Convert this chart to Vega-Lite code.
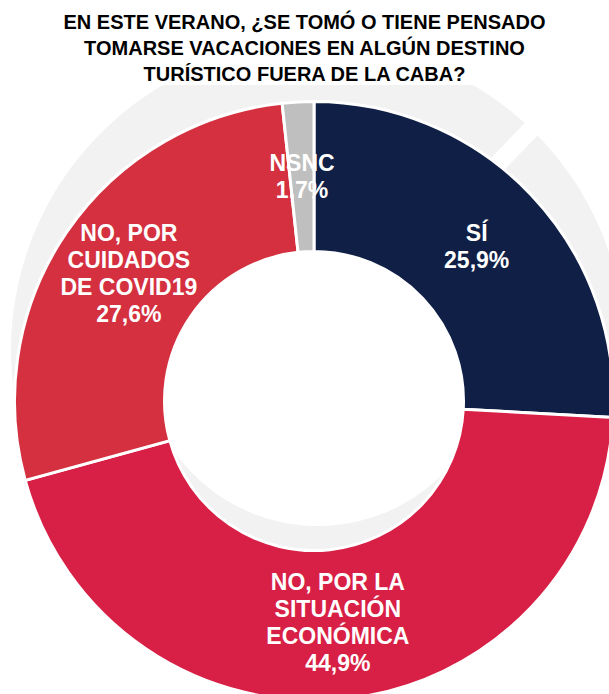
{
  "$schema": "https://vega.github.io/schema/vega-lite/v6.json",
  "autosize": {"type": "none"},
  "padding": {"left": 0, "top": 85, "right": 0, "bottom": 0},
  "width": 609,
  "height": 609,
  "background": "white",
  "title": {
    "text": ["EN ESTE VERANO, ¿SE TOMÓ O TIENE PENSADO", "TOMARSE VACACIONES EN ALGÚN DESTINO", "TURÍSTICO FUERA DE LA CABA?"],
    "font": "Liberation Sans",
    "fontSize": 20,
    "fontWeight": "bold",
    "color": "#000000",
    "anchor": "middle",
    "lineHeight": 26,
    "offset": 0
  },
  "datasets": {
    "fondo": [
      {"parte": "A", "v": 206},
      {"parte": "B", "v": 154}
    ],
    "respuestas": [
      {"n": 1, "categoria": "SÍ", "pct": 25.9, "etiqueta": "SÍ\n25,9%"},
      {"n": 2, "categoria": "NO, POR LA SITUACIÓN ECONÓMICA", "pct": 44.9, "etiqueta": "NO, POR LA\nSITUACIÓN\nECONÓMICA\n44,9%"},
      {"n": 3, "categoria": "NO, POR CUIDADOS DE COVID19", "pct": 27.6, "etiqueta": "NO, POR\nCUIDADOS\nDE COVID19\n27,6%"},
      {"n": 4, "categoria": "NSNC", "pct": 1.7, "etiqueta": "NSNC\n1,7%"}
    ]
  },
  "resolve": {"scale": {"theta": "independent"}},
  "layer": [
    {
      "data": {"name": "fondo"},
      "mark": {"type": "arc", "innerRadius": 176, "outerRadius": 307, "padAngle": 0.05, "color": "#f2f2f2", "xOffset": 13.5, "yOffset": -39.5, "clip": true},
      "encoding": {
        "theta": {"field": "v", "type": "quantitative", "stack": true, "scale": {"range": [0.768, 7.051]}},
        "order": {"field": "parte", "type": "nominal"}
      }
    },
    {
      "data": {"name": "respuestas"},
      "layer": [
        {
          "mark": {"type": "arc", "innerRadius": 149.5, "outerRadius": 299.5, "stroke": "white", "strokeWidth": 3, "xOffset": 9.5, "yOffset": 11.5},
          "encoding": {
            "theta": {"field": "pct", "type": "quantitative", "stack": true},
            "order": {"field": "n", "type": "quantitative"},
            "color": {
              "field": "categoria",
              "type": "nominal",
              "legend": null,
              "scale": {
                "domain": ["SÍ", "NO, POR LA SITUACIÓN ECONÓMICA", "NO, POR CUIDADOS DE COVID19", "NSNC"],
                "range": ["#101f46", "#d81f45", "#d4303f", "#bfbfbf"]
              }
            }
          }
        },
        {
          "mark": {"type": "text", "radius": 224, "font": "Liberation Sans", "fontSize": 23, "fontWeight": "bold", "color": "white", "lineBreak": "\n", "lineHeight": 27, "align": "center", "baseline": "middle", "xOffset": 9.5, "yOffset": -2},
          "encoding": {
            "theta": {"field": "pct", "type": "quantitative", "stack": true},
            "order": {"field": "n", "type": "quantitative"},
            "text": {"condition": {"test": "datum.n == 1 || datum.n == 4", "field": "etiqueta"}, "value": ""}
          }
        },
        {
          "mark": {"type": "text", "radius": 224, "font": "Liberation Sans", "fontSize": 23, "fontWeight": "bold", "color": "white", "lineBreak": "\n", "lineHeight": 27, "align": "center", "baseline": "middle", "xOffset": 9.5, "yOffset": -29},
          "encoding": {
            "theta": {"field": "pct", "type": "quantitative", "stack": true},
            "order": {"field": "n", "type": "quantitative"},
            "text": {"condition": {"test": "datum.n == 2 || datum.n == 3", "field": "etiqueta"}, "value": ""}
          }
        }
      ]
    }
  ]
}
